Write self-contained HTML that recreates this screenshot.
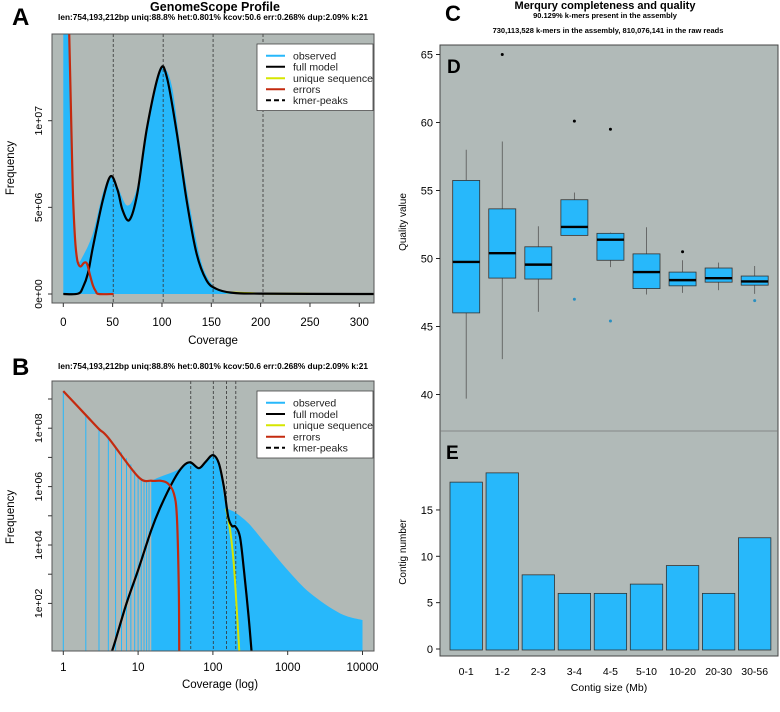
<!DOCTYPE html>
<html><head><meta charset="utf-8"><style>
html,body{margin:0;padding:0;background:#fff;}
svg{display:block;font-family:"Liberation Sans",Arial,sans-serif;}
</style></head><body>
<svg id="fig" width="780" height="712" viewBox="0 0 780 712" xmlns="http://www.w3.org/2000/svg">
<defs>
<clipPath id="clipA"><rect x="52" y="34" width="322" height="269"/></clipPath>
<clipPath id="clipB"><rect x="52" y="381" width="322" height="270"/></clipPath>
</defs>
<text x="12" y="25" font-size="24" font-weight="bold">A</text>
<text x="215" y="11" font-size="12.5" font-weight="bold" text-anchor="middle">GenomeScope Profile</text>
<text x="213" y="20" font-size="8.3" font-weight="bold" text-anchor="middle">len:754,193,212bp uniq:88.8%  het:0.801% kcov:50.6 err:0.268%  dup:2.09%  k:21</text>
<rect x="52" y="34" width="322" height="269" fill="#b1b9b6"/>
<g id="gA" clip-path="url(#clipA)"></g>
<rect x="52" y="34" width="322" height="269" fill="none" stroke="#555" stroke-width="1"/>
<g id="axA"></g>
<text x="213" y="344" font-size="11.5" text-anchor="middle">Coverage</text>
<text transform="translate(14,168) rotate(-90)" font-size="11.5" text-anchor="middle">Frequency</text>

<text x="12" y="375" font-size="24" font-weight="bold">B</text>
<text x="213" y="369" font-size="8.3" font-weight="bold" text-anchor="middle">len:754,193,212bp uniq:88.8%  het:0.801% kcov:50.6 err:0.268%  dup:2.09%  k:21</text>
<rect x="52" y="381" width="322" height="270" fill="#b1b9b6"/>
<g id="gB" clip-path="url(#clipB)"></g>
<rect x="52" y="381" width="322" height="270" fill="none" stroke="#555" stroke-width="1"/>
<g id="axB"></g>
<text x="220" y="688" font-size="11.5" text-anchor="middle">Coverage (log)</text>
<text transform="translate(14,517) rotate(-90)" font-size="11.5" text-anchor="middle">Frequency</text>

<text x="445" y="21" font-size="22" font-weight="bold">C</text>
<text x="605" y="9" font-size="11" font-weight="bold" text-anchor="middle">Merqury completeness and quality</text>
<text x="605" y="18" font-size="7.5" font-weight="bold" text-anchor="middle">90.129% k-mers present in the assembly</text>
<text x="608" y="33" font-size="7.5" font-weight="bold" text-anchor="middle">730,113,528 k-mers in the assembly, 810,076,141 in the raw reads</text>
<rect x="440" y="45" width="338" height="611" fill="#b1bab8" stroke="#444" stroke-width="1"/>
<line x1="440" y1="431" x2="778" y2="431" stroke="#777" stroke-width="0.8"/>
<text x="447" y="73" font-size="19" font-weight="bold">D</text>
<text x="446" y="459" font-size="19" font-weight="bold">E</text>
<g id="gD"></g>
<g id="gE"></g>
<text transform="translate(406,222) rotate(-90)" font-size="10" text-anchor="middle">Quality value</text>
<text transform="translate(406,552) rotate(-90)" font-size="10" text-anchor="middle">Contig number</text>
<text x="609" y="691" font-size="10.5" text-anchor="middle">Contig size (Mb)</text>
</svg>
<script>
const covObsA = [0,3,5,7,10,12,15,20,30,40,48,55,65,75,85,95,101,110,120,130,140,150,160,180,200,300,320];
const freqObsA = [100,60,30,12.5,5.4,3.1,1.9,2.2,3.5,5.8,6.8,6.2,5.1,6.2,9.7,12.5,13.1,12,7.9,4.5,1.8,0.6,0.2,0.05,0.02,0,0];
const covModelA = [0,15,20,25,30,40,48,55,60,67,75,85,98,105,115,125,135,145,155,170,200,300,320];
const freqModelA = [0,0.02,0.4,1.2,2.7,5.4,6.8,6.0,4.85,4.27,5.8,9.65,12.9,12.5,9.3,5.4,2.35,0.8,0.3,0.08,0.02,0,0];
const covErrA = [5,6,7,8,9,10,12,14,16,18,21,24,27,30,33,36,51];
const freqErrA = [18,15,12.5,10,7.5,5.4,3.1,2,1.65,1.6,1.8,1.75,1.1,0.5,0.15,0,0];
const kmerPeaks = [50.6,101.2,151.8,202.4];
const ticksAx = [0,50,100,150,200,250,300];
const ticksAy = [0,5,10];
const ticksAyLabels = ["0e+00","5e+06","1e+07"];
const spikeCovB = [1,2,3,4,5,6,7,8,9,10,11,12,13,14];
const spikeLogB = [9.27,8.45,7.97,7.67,7.4,7.17,6.97,6.76,6.55,6.38,6.3,6.25,6.22,6.2];
const covObsB = [15,20,30,40,50,70,100,120,140,150,170,200,300,500,1000,2000,5000,10000];
const logObsB = [6.2,6.34,6.51,6.68,6.8,6.68,7.12,6.7,5.7,5.31,5.2,5.11,4.74,4.06,3.14,2.35,1.66,1.43];
const covModelB = [4.5,5,7,10,15,20,30,40,50,65,80,100,120,140,160,180,200,230,260,300,330];
const logModelB = [0.38,0.75,2.0,3.14,4.51,5.31,6.23,6.7,6.83,6.63,6.85,7.08,6.8,6.0,4.97,4.65,4.63,4.28,3.14,1.55,0.3];
const covErrB = [1,2,3,4,10,15,20,25,30,33,35,35.5];
const logErrB = [9.27,8.45,7.97,7.67,6.34,6.2,6.2,6.11,5.77,4.97,2.5,0.2];
const covUniqB = [150,170,190,210,226];
const logUniqB = [5.25,4.5,3.37,1.66,0.3];
const ticksBx = [1,10,100,1000,10000];
const ticksBy = [2,3,4,5,6,7,8,9];
const categories = ["0-1","1-2","2-3","3-4","4-5","5-10","10-20","20-30","30-56"];
const boxQ1 = [46.0,48.56,48.49,51.7,49.87,47.79,47.99,48.26,48.04];
const boxMedian = [49.75,50.39,49.55,52.32,51.38,49.0,48.41,48.55,48.31];
const boxQ3 = [55.74,53.65,50.86,54.32,51.85,50.34,49.0,49.3,48.71];
const whiskerLo = [39.7,42.6,46.08,51.7,49.37,47.35,47.47,47.67,47.4];
const whiskerHi = [58.0,58.6,52.37,54.85,51.9,52.3,49.87,49.7,49.45];
const outlierCat = [1,3,3,4,4,6,8];
const outlierVal = [65.0,60.1,47.0,59.5,45.4,50.5,46.9];
const ticksD = [40,45,50,55,60,65];
const contigCounts = [18,19,8,6,6,7,9,6,12];
const ticksE = [0,5,10,15];

const NS="http://www.w3.org/2000/svg";
function mk(tag,attrs,parent,text){const e=document.createElementNS(NS,tag);for(const k in attrs)e.setAttribute(k,attrs[k]);if(text!==undefined)e.textContent=text;parent.appendChild(e);return e;}
function smooth(pts){
  let d="M"+pts[0][0].toFixed(2)+","+pts[0][1].toFixed(2);
  for(let i=0;i<pts.length-1;i++){
    const p0=pts[Math.max(i-1,0)],p1=pts[i],p2=pts[i+1],p3=pts[Math.min(i+2,pts.length-1)];
    const c1=[p1[0]+(p2[0]-p0[0])/6,p1[1]+(p2[1]-p0[1])/6],c2=[p2[0]-(p3[0]-p1[0])/6,p2[1]-(p3[1]-p1[1])/6];
    d+=" C"+c1[0].toFixed(2)+","+c1[1].toFixed(2)+" "+c2[0].toFixed(2)+","+c2[1].toFixed(2)+" "+p2[0].toFixed(2)+","+p2[1].toFixed(2);
  }
  return d;
}
const BLUE="#27b8fb",RED="#c42a0f",YEL="#d6e600";

const xA=c=>63.3+c*0.9867, yA=v=>294-v*17.33;
const gA=document.getElementById('gA'), axA=document.getElementById('axA');
let ptsObsA=covObsA.map((c,i)=>[xA(c),yA(freqObsA[i])]);
let obsA=mk('path',{d:smooth(ptsObsA)+" L"+xA(320)+","+yA(0)+" L"+xA(0)+","+yA(0)+" Z",fill:BLUE},gA);


kmerPeaks.forEach((k,i)=>{const l=mk('line',{x1:xA(k),x2:xA(k),y1:34,y2:303,stroke:"#333","stroke-width":0.8,"stroke-dasharray":"3,2"},gA);

});
let uA=mk('path',{d:smooth([[xA(165),yA(0.1)],[xA(200),yA(0.03)],[xA(250),yA(0.01)]]),fill:"none",stroke:YEL,"stroke-width":2},gA);


let modA=mk('path',{d:smooth(covModelA.map((c,i)=>[xA(c),yA(freqModelA[i])])),fill:"none",stroke:"#000","stroke-width":2.2},gA);


let errA=mk('path',{d:smooth(covErrA.map((c,i)=>[xA(c),yA(freqErrA[i])])),fill:"none",stroke:RED,"stroke-width":2.2},gA);


ticksAx.forEach(t=>{mk('line',{x1:xA(t),x2:xA(t),y1:303,y2:307,stroke:"#333"},axA);
const tx=mk('text',{x:xA(t),y:326,"font-size":11.5,"text-anchor":"middle"},axA,String(t));

});
ticksAy.forEach((t,i)=>{mk('line',{x1:48,x2:52,y1:yA(t),y2:yA(t),stroke:"#333"},axA);
const tx=mk('text',{transform:`translate(42,${yA(t)}) rotate(-90)`,"font-size":10.5,"text-anchor":"middle"},axA,ticksAyLabels[i]);

});
function legend(parent,x,y,ys,prefix){
  const g=mk('g',{},parent);
  
  
  mk('rect',{x:x,y:y,width:116,height:ys[4]-ys[0]+22,fill:"#fff",stroke:"#444","stroke-width":0.8},g);
  const items=[["observed",BLUE,""],["full model","#000",""],["unique sequence",YEL,""],["errors",RED,""],["kmer-peaks","#000","5,3"]];
  items.forEach((it,i)=>{mk('line',{x1:x+9,x2:x+28,y1:ys[i],y2:ys[i],stroke:it[1],"stroke-width":2,"stroke-dasharray":it[2]},g);
  const t=mk('text',{x:x+36,y:ys[i]+3.8,"font-size":10.5,fill:"#222"},g,it[0]);
  
  });
}
legend(document.getElementById('fig'),257,44,[55.7,66.7,78.3,89.3,100.3],'panel-a');

const xB=c=>63.3+Math.log10(c)*74.8, yB=l=>545-(l-4)*29.2;
const gB=document.getElementById('gB'), axB=document.getElementById('axB');
spikeCovB.forEach((c,i)=>{const l=mk('line',{x1:xB(c),x2:xB(c),y1:651,y2:yB(spikeLogB[i]),stroke:BLUE,"stroke-width":1},gB);

});
let ptsOB=covObsB.map((c,i)=>[xB(c),yB(logObsB[i])]);
let obsB=mk('path',{d:smooth(ptsOB)+" L"+xB(10000)+",651 L"+xB(15)+",651 Z",fill:BLUE},gB);


kmerPeaks.forEach(k=>{const l=mk('line',{x1:xB(k),x2:xB(k),y1:381,y2:651,stroke:"#333","stroke-width":0.8,"stroke-dasharray":"3,2"},gB);

});
let uB=mk('path',{d:smooth(covUniqB.map((c,i)=>[xB(c),yB(logUniqB[i])])),fill:"none",stroke:YEL,"stroke-width":2},gB);


let modB=mk('path',{d:smooth(covModelB.map((c,i)=>[xB(c),yB(logModelB[i])])),fill:"none",stroke:"#000","stroke-width":2.2},gB);


let errB=mk('path',{d:smooth(covErrB.map((c,i)=>[xB(c),yB(logErrB[i])])),fill:"none",stroke:RED,"stroke-width":2.2},gB);


ticksBx.forEach(t=>{mk('line',{x1:xB(t),x2:xB(t),y1:651,y2:655,stroke:"#333"},axB);
const tx=mk('text',{x:xB(t),y:671,"font-size":11.5,"text-anchor":"middle"},axB,String(t));

});
ticksBy.forEach(t=>{mk('line',{x1:48,x2:52,y1:yB(t),y2:yB(t),stroke:"#333"},axB);
if(t%2===0){const tx=mk('text',{transform:`translate(42,${yB(t)}) rotate(-90)`,"font-size":10.5,"text-anchor":"middle"},axB,"1e+0"+t);

}});
legend(document.getElementById('fig'),257,391,[402.7,414,425.3,436.7,447.7],'panel-b');

const xCat=i=>466.2+i*36.06, yD=v=>54.5+(65-v)*13.6;
const gD=document.getElementById('gD');
ticksD.forEach(t=>{mk('line',{x1:436,x2:440,y1:yD(t),y2:yD(t),stroke:"#222"},gD);
const tx=mk('text',{x:433,y:yD(t)+4,"font-size":11,"text-anchor":"end"},gD,String(t));

});
categories.forEach((c,i)=>{
  const x=xCat(i), w=27;
  const g=mk('g',{},gD);
  
  
  mk('line',{x1:x,x2:x,y1:yD(whiskerHi[i]),y2:yD(whiskerLo[i]),stroke:"#555","stroke-width":0.8},g);
  mk('rect',{x:x-w/2,y:yD(boxQ3[i]),width:w,height:yD(boxQ1[i])-yD(boxQ3[i]),fill:BLUE,stroke:"#333","stroke-width":0.8},g);
  mk('line',{x1:x-w/2,x2:x+w/2,y1:yD(boxMedian[i]),y2:yD(boxMedian[i]),stroke:"#000","stroke-width":2.4},g);
});
outlierCat.forEach((ci,j)=>{const high=outlierVal[j]>boxQ3[ci];
const o=mk('circle',{cx:xCat(ci),cy:yD(outlierVal[j]),r:1.5,fill:high?"#000":"#2a8fc0"},gD);

});

const yE=n=>649-n*9.27;
const gE=document.getElementById('gE');
ticksE.forEach(t=>{mk('line',{x1:436,x2:440,y1:yE(t),y2:yE(t),stroke:"#222"},gE);
const tx=mk('text',{x:433,y:yE(t)+4,"font-size":11,"text-anchor":"end"},gE,String(t));

});
contigCounts.forEach((n,i)=>{
  const b=mk('rect',{x:xCat(i)-16.2,y:yE(n),width:32.4,height:yE(0)-yE(n)+1,fill:BLUE,stroke:"#333","stroke-width":0.8},gE);
  
  
  const t=mk('text',{x:xCat(i),y:675,"font-size":10.5,"text-anchor":"middle"},gE,categories[i]);
  
  
});
</script>
</body></html>
